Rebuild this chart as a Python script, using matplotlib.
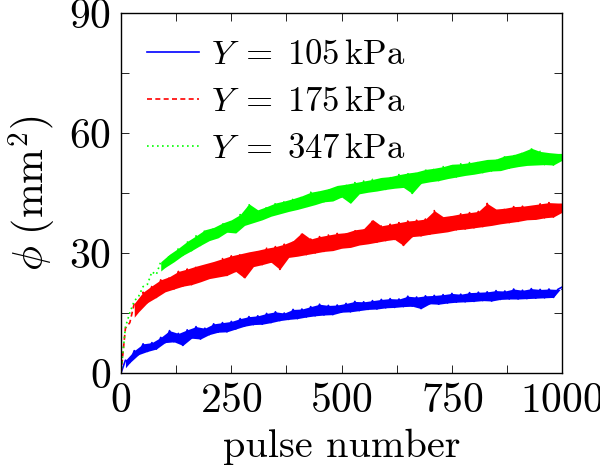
import matplotlib
matplotlib.use("Agg")
import matplotlib.pyplot as plt
import numpy as np

plt.rcParams["font.family"] = "cmr10"
plt.rcParams["mathtext.fontset"] = "cm"
plt.rcParams["axes.formatter.use_mathtext"] = True

# pulse numbers, sampled every 10 pulses
pulses = np.arange(0, 1001, 10)

phi_105 = [
    0.0, 3.2, 2.6, 5.6, 4.6, 7.3, 5.4, 7.6, 6.0, 8.9,
    7.6, 10.6, 7.8, 9.9, 6.9, 10.8, 8.7, 11.6, 8.5, 11.2,
    9.6, 12.3, 10.2, 12.6, 10.3, 12.9, 11.0, 13.6, 11.7, 14.1,
    12.1, 14.3, 12.2, 14.9, 12.6, 15.3, 13.1, 15.0, 13.4, 15.9,
    13.6, 16.0, 14.0, 16.6, 14.3, 17.2, 14.5, 16.9, 14.6, 17.0,
    15.2, 17.4, 15.3, 17.9, 15.6, 17.8, 15.9, 18.1, 16.0, 18.4,
    16.3, 18.6, 16.4, 18.5, 16.6, 19.2, 16.7, 19.0, 16.1, 19.3,
    17.3, 19.4, 17.2, 19.6, 17.5, 19.9, 17.7, 19.7, 17.8, 20.1,
    17.9, 20.2, 18.1, 20.3, 18.0, 20.6, 18.4, 20.5, 18.5, 21.0,
    18.5, 20.7, 18.6, 21.1, 18.7, 20.9, 18.8, 21.0, 18.9, 20.9,
    21.5,
]

phi_175 = [
    0.0, 11.2, 12.6, 17.4, 15.3, 20.2, 17.6, 21.8, 18.9, 23.3,
    20.3, 24.1, 21.0, 25.4, 21.7, 26.0, 22.1, 26.7, 22.8, 27.3,
    23.6, 27.9, 24.0, 28.6, 24.4, 29.3, 25.4, 29.8, 23.7, 30.3,
    26.6, 30.7, 27.1, 31.2, 27.7, 31.6, 25.9, 32.2, 28.9, 33.1,
    29.2, 35.1, 29.6, 33.5, 30.0, 34.1, 30.4, 34.5, 30.6, 34.9,
    31.2, 35.1, 31.4, 35.8, 32.0, 36.1, 32.3, 38.4, 32.7, 36.8,
    33.1, 37.2, 33.4, 37.6, 31.9, 38.0, 34.1, 38.2, 34.3, 38.5,
    34.7, 40.6, 35.0, 39.1, 35.3, 39.4, 35.8, 39.8, 36.0, 40.1,
    36.3, 40.4, 36.6, 42.4, 36.9, 41.0, 37.3, 41.2, 37.6, 41.6,
    37.9, 41.7, 38.3, 42.0, 38.4, 42.3, 38.8, 42.6, 39.0, 42.5,
    40.2,
]

phi_347 = [
    0.0, 11.5, 15.1, 18.0, 19.2, 21.6, 22.2, 25.3, 24.6, 27.8,
    26.4, 29.7, 27.8, 31.2, 29.4, 32.9, 30.6, 34.3, 31.9, 35.8,
    33.1, 36.4, 33.8, 37.5, 35.2, 38.3, 35.0, 39.6, 36.9, 42.3,
    37.6, 40.8, 38.3, 41.6, 39.2, 42.5, 39.8, 43.0, 40.4, 43.6,
    40.9, 44.3, 41.5, 45.2, 42.1, 45.6, 42.8, 46.1, 43.0, 46.9,
    44.0, 47.2, 42.4, 47.6, 44.8, 48.0, 45.2, 48.4, 45.5, 48.9,
    45.9, 49.1, 46.2, 49.6, 46.4, 50.0, 44.9, 50.3, 47.4, 50.9,
    47.8, 51.2, 48.1, 51.6, 48.6, 52.2, 49.0, 52.3, 49.4, 52.6,
    49.7, 53.0, 50.1, 53.4, 50.5, 53.5, 50.6, 54.3, 51.2, 54.6,
    51.6, 55.3, 51.9, 56.2, 52.0, 55.4, 52.1, 55.1, 52.0, 54.9,
    53.2,
]

labels = [r"$Y\;=\;105\,\mathrm{kPa}$", r"$Y\;=\;175\,\mathrm{kPa}$", r"$Y\;=\;347\,\mathrm{kPa}$"]
colors = [(0, 0, 1), (1, 0, 0), (0, 1, 0)]
styles = ["-", (0, (3, 2)), (0, (1, 2))]
band_from = [1, 3, 9]  # index where the noise band becomes dense

fig = plt.figure(figsize=(6, 4.75), dpi=100)
ax = fig.add_axes([0.2017, 0.2147, 0.7353, 0.7579])

for y, c, ls, lab, k in zip([phi_105, phi_175, phi_347], colors, styles, labels, band_from):
    y = np.asarray(y)
    # noisy band: fill between the two alternating sample sets
    a = np.interp(pulses, pulses[0::2], y[0::2])
    b = np.interp(pulses, pulses[1::2], y[1::2])
    ax.fill_between(pulses[k:], a[k:], b[k:], color=c, lw=0)
    ax.plot(pulses, y, color=c, lw=1.2, ls=ls, label=lab)

ax.set_xlim(0, 1000)
ax.set_ylim(0, 90)
ax.set_xticks([0, 250, 500, 750, 1000])
ax.set_xticks([125, 375, 625, 875], minor=True)
ax.set_yticks([0, 30, 60, 90])
ax.set_yticks([15, 45, 75], minor=True)
ax.tick_params(which="both", direction="in", top=True, right=True,
               length=6, width=0.6, labelsize=30, pad=7)
for s in ax.spines.values():
    s.set_linewidth(1.0)

ax.set_xlabel("pulse number", fontsize=29, labelpad=6)
ax.set_ylabel(r"$\phi\ (\mathrm{mm}^2)$", fontsize=30, labelpad=8)

ax.legend(loc="upper left", frameon=False, fontsize=25, handlelength=1.5,
          handletextpad=0.35, labelspacing=0.45, borderaxespad=0.35)

fig.savefig("out.png", dpi=100)
